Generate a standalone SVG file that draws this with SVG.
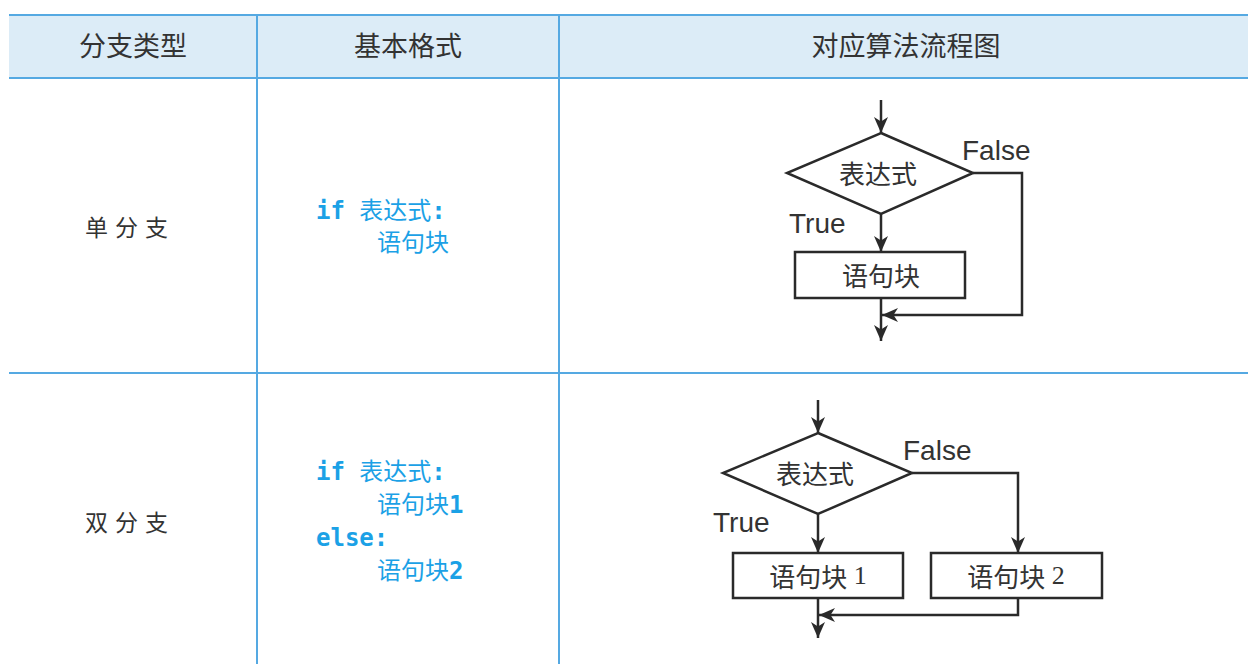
<svg xmlns="http://www.w3.org/2000/svg" width="1248" height="664" viewBox="0 0 1248 664">
<style>
.grid{stroke:#55a9e2;stroke-width:2;fill:none}
.hdr{font-family:"Noto Sans CJK SC",sans-serif;font-size:27px;fill:#333;text-anchor:middle}
.kind{font-family:"Noto Sans CJK SC",sans-serif;font-size:23px;fill:#333;text-anchor:middle;letter-spacing:7px}
.code{font-family:"DejaVu Sans Mono","Noto Sans CJK SC",monospace;font-size:24px;fill:#1ba1e6}
.cj{font-family:"Noto Sans CJK SC",sans-serif;font-weight:normal}
.lat{font-weight:bold}
.shape{fill:#fff;stroke:#2a2a2a;stroke-width:2.5}
.ntext{font-family:"Noto Sans CJK SC",sans-serif;font-size:26px;fill:#333;text-anchor:middle;dominant-baseline:central}
.num{font-family:"Liberation Serif",serif}
.lbl{font-family:"Liberation Sans",sans-serif;font-size:28px;fill:#333}
.conn{fill:none;stroke:#2a2a2a;stroke-width:2.5}
</style>
<defs>
<marker id="arr" markerUnits="userSpaceOnUse" markerWidth="18" markerHeight="16" refX="16" refY="8" orient="auto">
<path d="M0,1 L16,8 L0,15 L4.5,8 z" fill="#2a2a2a"/>
</marker>
</defs>
<rect width="1248" height="664" fill="#fff"/>
<g id="table">
<rect x="9" y="15" width="1239" height="63" fill="#dcecf7"/>
<path class="grid" d="M9,15 H1248 M9,78 H1248 M9,373 H1248 M257,15 V664 M559,15 V664"/>
<text class="hdr" x="133" y="56">分支类型</text>
<text class="hdr" x="408" y="56">基本格式</text>
<text class="hdr" x="906" y="56">对应算法流程图</text>
<text class="kind" x="130" y="236">单分支</text>
<text class="kind" x="130" y="531">双分支</text>
</g>
<g id="code1">
<text class="code" x="316" y="219"><tspan class="lat">if </tspan><tspan class="cj">表达式</tspan><tspan class="lat">:</tspan></text>
<text class="code" x="377" y="251"><tspan class="cj">语句块</tspan></text>
</g>
<g id="code2">
<text class="code" x="316" y="480"><tspan class="lat">if </tspan><tspan class="cj">表达式</tspan><tspan class="lat">:</tspan></text>
<text class="code" x="377" y="513"><tspan class="cj">语句块</tspan><tspan class="lat">1</tspan></text>
<text class="code" x="316" y="546"><tspan class="lat">else:</tspan></text>
<text class="code" x="377" y="579"><tspan class="cj">语句块</tspan><tspan class="lat">2</tspan></text>
</g>
<g id="connectors">
<path class="conn" d="M881,100 V133" marker-end="url(#arr)"/>
<path class="conn" d="M881,214 V252" marker-end="url(#arr)"/>
<path class="conn" d="M973,173 H1022 V315 H882" marker-end="url(#arr)"/>
<path class="conn" d="M881,298 V341" marker-end="url(#arr)"/>
<path class="conn" d="M818,400 V433" marker-end="url(#arr)"/>
<path class="conn" d="M818,514 V553" marker-end="url(#arr)"/>
<path class="conn" d="M912,473 H1018 V553" marker-end="url(#arr)"/>
<path class="conn" d="M1018,598 V615 H819" marker-end="url(#arr)"/>
<path class="conn" d="M818,598 V638" marker-end="url(#arr)"/>
</g>
<g id="cond1">
<polygon class="shape" points="881,133 973,173 881,214 787,173"/>
<text class="ntext" x="878" y="172">表达式</text>
</g>
<g id="block1">
<rect class="shape" x="795" y="252" width="170" height="46"/>
<text class="ntext" x="881" y="274">语句块</text>
</g>
<g id="cond2">
<polygon class="shape" points="818,433 912,473 818,514 723,473"/>
<text class="ntext" x="815" y="472">表达式</text>
</g>
<g id="block21">
<rect class="shape" x="733" y="553" width="170" height="45"/>
<text class="ntext" x="818" y="575">语句块<tspan class="num"> 1</tspan></text>
</g>
<g id="block22">
<rect class="shape" x="931" y="553" width="171" height="45"/>
<text class="ntext" x="1016" y="575">语句块<tspan class="num"> 2</tspan></text>
</g>
<g id="labels">
<text class="lbl" x="962" y="160">False</text>
<text class="lbl" x="789" y="233">True</text>
<text class="lbl" x="903" y="460">False</text>
<text class="lbl" x="713" y="532">True</text>
</g>
</svg>
